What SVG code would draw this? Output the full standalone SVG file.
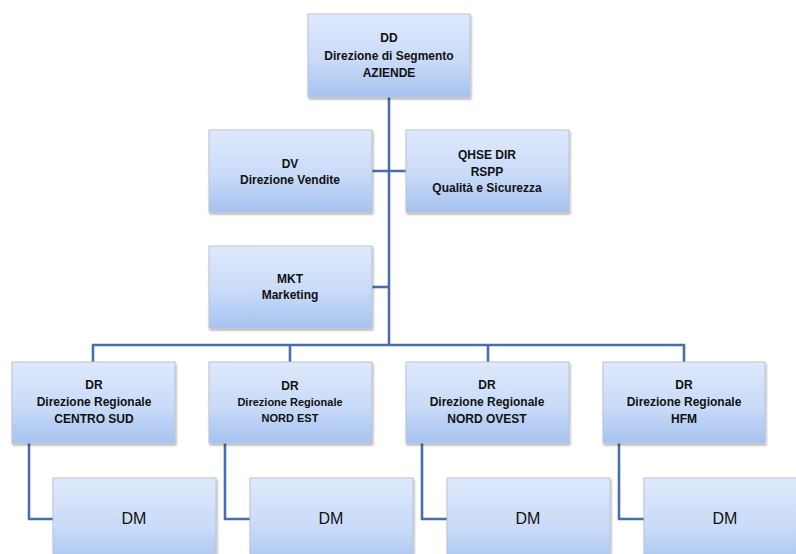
<svg xmlns="http://www.w3.org/2000/svg" width="796" height="554" viewBox="0 0 796 554">
<defs>
<linearGradient id="g" x1="0" y1="0" x2="0" y2="1">
<stop offset="0" stop-color="#dfe9fc"/>
<stop offset="0.55" stop-color="#c9dbf8"/>
<stop offset="1" stop-color="#a6c2f0"/>
</linearGradient>
<filter id="sh" x="-5%" y="-5%" width="115%" height="120%">
<feDropShadow dx="1" dy="2" stdDeviation="1.2" flood-color="#000" flood-opacity="0.3"/>
</filter>
</defs>
<style>
.box{fill:url(#g);stroke:#b9c3d1;stroke-width:1;filter:url(#sh)}
.t{font-family:"Liberation Sans",Arial,sans-serif;font-size:12px;font-weight:bold;fill:#111;text-anchor:middle}
.s{font-size:11px}
.dm{font-family:"Liberation Sans",Arial,sans-serif;font-size:16px;fill:#111;text-anchor:middle}
.c{fill:none;stroke:#4a6ea8;stroke-width:2.6}
</style>
<rect width="796" height="554" fill="#fff"/>
<g id="connectors">
<path class="c" d="M389 97 V346"/>
<path class="c" d="M372 171 H406"/>
<path class="c" d="M372 287 H389"/>
<path class="c" d="M93 362 V345 H684 V362"/>
<path class="c" d="M290 345 V362"/>
<path class="c" d="M488 345 V362"/>
<path class="c" d="M29 443 V519 H53"/>
<path class="c" d="M225 443 V519 H250"/>
<path class="c" d="M422 443 V519 H447"/>
<path class="c" d="M619 443 V519 H644"/>
</g>
<g id="dd">
<rect class="box" x="308" y="14" width="162" height="83"/>
<text class="t" x="389" y="42">DD</text>
<text class="t" x="389" y="60">Direzione di Segmento</text>
<text class="t" x="389" y="77">AZIENDE</text>
</g>
<g id="dv">
<rect class="box" x="209" y="130" width="163" height="82"/>
<text class="t" x="290" y="168">DV</text>
<text class="t" x="290" y="184">Direzione Vendite</text>
</g>
<g id="qhse">
<rect class="box" x="406" y="130" width="163" height="82"/>
<text class="t" x="487" y="159">QHSE DIR</text>
<text class="t" x="487" y="176">RSPP</text>
<text class="t" x="487" y="192">Qualità e Sicurezza</text>
</g>
<g id="mkt">
<rect class="box" x="209" y="246" width="163" height="82"/>
<text class="t" x="290" y="283">MKT</text>
<text class="t" x="290" y="299">Marketing</text>
</g>
<g id="dr-centro-sud">
<rect class="box" x="12" y="362" width="163" height="81"/>
<text class="t" x="94" y="389">DR</text>
<text class="t" x="94" y="406">Direzione Regionale</text>
<text class="t" x="94" y="423">CENTRO SUD</text>
</g>
<g id="dr-nord-est">
<rect class="box" x="209" y="362" width="163" height="81"/>
<text class="t" x="290" y="390">DR</text>
<text class="t s" x="290" y="406">Direzione Regionale</text>
<text class="t s" x="290" y="422">NORD EST</text>
</g>
<g id="dr-nord-ovest">
<rect class="box" x="406" y="362" width="163" height="81"/>
<text class="t" x="487" y="389">DR</text>
<text class="t" x="487" y="406">Direzione Regionale</text>
<text class="t" x="487" y="423">NORD OVEST</text>
</g>
<g id="dr-hfm">
<rect class="box" x="603" y="362" width="162" height="81"/>
<text class="t" x="684" y="389">DR</text>
<text class="t" x="684" y="406">Direzione Regionale</text>
<text class="t" x="684" y="423">HFM</text>
</g>
<g id="dm-1">
<rect class="box" x="53" y="478" width="163" height="90"/>
<text class="dm" x="134" y="524">DM</text>
</g>
<g id="dm-2">
<rect class="box" x="250" y="478" width="163" height="90"/>
<text class="dm" x="331" y="524">DM</text>
</g>
<g id="dm-3">
<rect class="box" x="447" y="478" width="163" height="90"/>
<text class="dm" x="528" y="524">DM</text>
</g>
<g id="dm-4">
<rect class="box" x="644" y="478" width="163" height="90"/>
<text class="dm" x="725" y="524">DM</text>
</g>
</svg>
